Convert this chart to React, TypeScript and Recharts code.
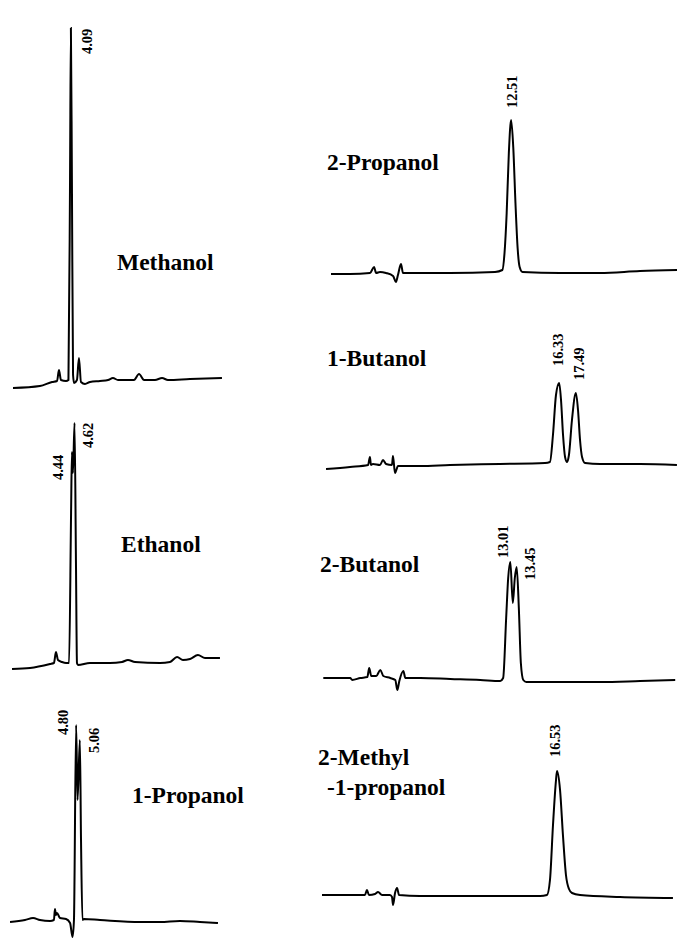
import React from "react";
import { LineChart, Line, XAxis, YAxis, ReferenceDot } from "recharts";

// retention time (min) and detector response (arbitrary units)

const methanolTime = [0.07, 1.94, 2.78, 3.13, 3.26, 3.4, 3.75, 3.92, 4.03, 4.09, 4.16, 4.24, 4.31, 4.51, 4.65, 4.79, 5.07, 5.42, 6.11, 6.67, 7.01, 7.36, 8.47, 8.82, 9.17, 9.93, 10.42, 10.83, 12.36, 14.58];
const methanolSignal = [-8, -6, -2, -1, 10, 0, -1, 0, 200, 352, 200, 5, -3, 0, 22, -2, -4, -2, -1, 0, 2, 0, 0, 6, 0, 0, 2, 0, 1, 2];

const ethanolTime = [0.28, 1.53, 2.92, 3.19, 3.33, 3.47, 3.75, 4.03, 4.24, 4.38, 4.44, 4.51, 4.62, 4.72, 4.79, 4.86, 5.69, 7.08, 7.92, 8.33, 8.82, 10.56, 11.25, 11.74, 12.15, 12.64, 13.19, 13.68, 14.72];
const ethanolSignal = [-6, -5, -1, 0, 11, 3, 1, 0, 0, 150, 211, 190, 240, 100, 0, -2, 0, 0, 1, 3, 1, 0, 1, 6, 3, 4, 8, 5, 5];

const propanol1Time = [0.21, 1.25, 1.81, 2.29, 2.99, 3.26, 3.33, 3.4, 3.47, 3.68, 4.1, 4.38, 4.55, 4.65, 4.8, 4.9, 5.06, 5.14, 5.24, 5.35, 6.46, 9.24, 10.63, 12.01, 13.4, 14.65];
const propanol1Signal = [-2, 0, 2, 0, -1, 0, 11, 5, 7, 2, 1, -3, -17, 0, 195, 120, 180, 80, 0, 1, 0, -2, -2, -1, -2, -3];

const propanol2Time = [0, 1.32, 2.71, 2.99, 3.13, 3.4, 3.82, 4.31, 4.51, 4.65, 4.86, 5.0, 6.18, 8.26, 11.39, 11.9, 12.05, 12.2, 12.35, 12.51, 12.66, 12.81, 12.96, 13.1, 13.3, 15.9, 18.68, 21.46, 24.03];
const propanol2Signal = [-1, -1, 0, 6, 0, 1, 0, -3, -9, -2, 9, 0, 0, 0, 1, 3, 20, 60, 120, 153, 125, 70, 25, 6, 1, 0, 0, 2, 3];

const butanol1Time = [0.14, 1.81, 3.06, 3.19, 3.26, 3.4, 3.89, 4.1, 4.31, 4.72, 4.79, 4.93, 5.14, 6.67, 8.75, 12.22, 15.35, 15.69, 15.9, 16.11, 16.33, 16.46, 16.6, 16.74, 16.88, 17.01, 17.22, 17.49, 17.64, 17.78, 17.92, 18.13, 19.17, 21.94, 24.51];
const butanol1Signal = [-4, -2, 0, 8, 0, 1, 0, 5, 1, 0, 9, -8, -1, -1, 0, 1, 2, 3, 30, 70, 82, 65, 30, 8, 3, 10, 45, 72, 55, 25, 8, 2, 1, 1, 0];

const butanol2Time = [0.02, 1.89, 2.03, 2.59, 3.08, 3.21, 3.35, 3.7, 3.98, 4.19, 4.67, 5.02, 5.16, 5.3, 5.58, 5.72, 6.76, 8.84, 10.92, 12.31, 12.51, 12.72, 12.86, 13.01, 13.18, 13.32, 13.45, 13.6, 13.74, 13.91, 14.12, 16.48, 19.26, 22.03, 24.46];
const butanol2Signal = [0, 0, -2, 0, 1, 10, 2, 2, 8, 2, 0, -2, -12, -3, 7, 0, 0, -1, -2, -3, 0, 60, 100, 116, 75, 100, 111, 70, 15, -2, -4, -4, -4, -3, -2];

const methylpropanolTime = [0.21, 2.15, 3.19, 3.33, 3.47, 3.89, 4.1, 4.38, 4.93, 5.07, 5.14, 5.28, 5.42, 5.56, 7.01, 11.18, 15.35, 15.83, 16.04, 16.25, 16.46, 16.53, 16.74, 16.94, 17.15, 17.36, 17.57, 18.13, 20.9, 24.58];
const methylpropanolSignal = [0, 0, 0, 5, 0, 1, 3, 0, 0, -2, -10, 2, 7, 0, -1, -1, -1, 0, 15, 70, 115, 124, 105, 60, 20, 6, 2, 0, -2, -3];

// labelled peaks: retention time + response at the apex
const methanolPeaks = [{ t: 4.09, v: 352 }];
const ethanolPeaks = [{ t: 4.44, v: 211 }, { t: 4.62, v: 240 }];
const propanol1Peaks = [{ t: 4.8, v: 195 }, { t: 5.06, v: 180 }];
const propanol2Peaks = [{ t: 12.51, v: 153 }];
const butanol1Peaks = [{ t: 16.33, v: 82 }, { t: 17.49, v: 72 }];
const butanol2Peaks = [{ t: 13.01, v: 116 }, { t: 13.45, v: 111 }];
const methylpropanolPeaks = [{ t: 16.53, v: 124 }];

const PX_PER_MIN = 14.4;
const FONT = "'Liberation Serif', 'Times New Roman', serif";

const zip = (ts: number[], vs: number[]) => ts.map((t, i) => ({ t, v: vs[i] }));

// layout only: where each trace sits on the page, and label nudges (px)
const panels = [
  { key: "meoh", time: methanolTime, signal: methanolSignal, peaks: methanolPeaks, left: 12, base: 380, yMax: 380, yMin: -25, tMax: 15, nudge: [[21, 26]] },
  { key: "etoh", time: ethanolTime, signal: ethanolSignal, peaks: ethanolPeaks, left: 8, base: 663, yMax: 250, yMin: -25, tMax: 15, nudge: [[-9, 28], [18.5, 25]] },
  { key: "1proh", time: propanol1Time, signal: propanol1Signal, peaks: propanol1Peaks, left: 7, base: 920, yMax: 220, yMin: -18, tMax: 15, nudge: [[-8, 10], [19, 13]] },
  { key: "2proh", time: propanol2Time, signal: propanol2Signal, peaks: propanol2Peaks, left: 331, base: 273, yMax: 205, yMin: -25, tMax: 24.6, nudge: [[6, -12]] },
  { key: "1buoh", time: butanol1Time, signal: butanol1Signal, peaks: butanol1Peaks, left: 324, base: 465, yMax: 135, yMin: -25, tMax: 24.6, nudge: [[4, -17], [8.5, -13]] },
  { key: "2buoh", time: butanol2Time, signal: butanol2Signal, peaks: butanol2Peaks, left: 322.7, base: 678, yMax: 155, yMin: -25, tMax: 24.6, nudge: [[-2, -4], [18, 13]] },
  { key: "ibuoh", time: methylpropanolTime, signal: methylpropanolSignal, peaks: methylpropanolPeaks, left: 319, base: 895, yMax: 178, yMin: -25, tMax: 24.6, nudge: [[3, -14]] },
];

const titles = [
  { text: "Methanol", x: 117, y: 270 },
  { text: "Ethanol", x: 121, y: 552 },
  { text: "1-Propanol", x: 132, y: 803 },
  { text: "2-Propanol", x: 327, y: 170 },
  { text: "1-Butanol", x: 327, y: 366 },
  { text: "2-Butanol", x: 320, y: 572 },
  { text: "2-Methyl", x: 318, y: 765 },
  { text: "-1-propanol", x: 327, y: 795 },
];

function PeakLabel(props: any) {
  const { viewBox, text, dx, dy } = props;
  const ax = viewBox.x + viewBox.width / 2 + dx;
  const ay = viewBox.y + viewBox.height / 2 + dy;
  return (
    <text
      x={ax}
      y={ay}
      transform={`rotate(-90 ${ax} ${ay})`}
      textAnchor="start"
      fontFamily={FONT}
      fontWeight="bold"
      fontSize={14.5}
      fill="#000"
    >
      {text}
    </text>
  );
}

function Trace({ p }: { p: (typeof panels)[number] }) {
  const width = p.tMax * PX_PER_MIN;
  const height = p.yMax - p.yMin;
  return (
    <div style={{ position: "absolute", left: p.left, top: p.base - p.yMax }}>
      <LineChart width={width} height={height} data={zip(p.time, p.signal)} margin={{ top: 0, right: 0, bottom: 0, left: 0 }}>
        <XAxis dataKey="t" type="number" domain={[0, p.tMax]} allowDataOverflow hide />
        <YAxis type="number" domain={[p.yMin, p.yMax]} allowDataOverflow hide />
        <Line type="monotone" dataKey="v" stroke="#000" strokeWidth={2} dot={false} isAnimationActive={false} />
        {p.peaks.map((pk, i) => (
          <ReferenceDot
            key={pk.t}
            x={pk.t}
            y={pk.v}
            r={1}
            fill="none"
            stroke="none"
            label={(lp: any) => <PeakLabel {...lp} text={pk.t.toFixed(2)} dx={p.nudge[i][0]} dy={p.nudge[i][1]} />}
          />
        ))}
      </LineChart>
    </div>
  );
}

export default function App() {
  return (
    <div style={{ position: "absolute", left: 0, top: 0, width: 677, height: 938, overflow: "hidden", background: "#fff" }}>
      {panels.map((p) => (
        <Trace key={p.key} p={p} />
      ))}
      <svg width={677} height={938} style={{ position: "absolute", left: 0, top: 0, pointerEvents: "none" }}>
        {titles.map((t) => (
          <text key={t.text} x={t.x} y={t.y} fontFamily={FONT} fontWeight="bold" fontSize={23.5} fill="#000">
            {t.text}
          </text>
        ))}
      </svg>
    </div>
  );
}
